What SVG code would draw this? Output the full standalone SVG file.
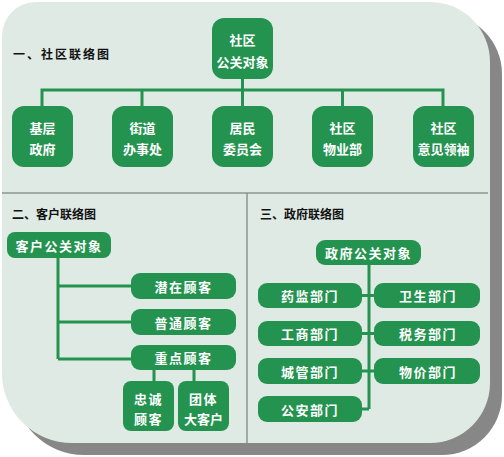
<svg xmlns="http://www.w3.org/2000/svg" width="504" height="457" viewBox="0 0 504 457">
<style>
.node rect{fill:#24934f;}
.node text{fill:#ffffff;font-family:"Noto Sans CJK SC","Noto Sans",sans-serif;font-weight:bold;font-size:13px;text-anchor:middle;dominant-baseline:central;}
.sp text{letter-spacing:1.5px;}
.title{fill:#111111;font-family:"Noto Sans CJK SC","Noto Sans",sans-serif;font-weight:bold;font-size:12px;dominant-baseline:central;}
.conn{stroke:#24934f;stroke-width:3;fill:none;}
.div{stroke:#8c9691;stroke-width:1.5;fill:none;}
</style>
<rect width="504" height="457" fill="#ffffff"/>
<g id="background">
<path d="M48,14 H442 A60,60 0 0 1 502,74 V395 A60,60 0 0 1 442,455 H84 A70,70 0 0 1 14,385 V48 A34,34 0 0 1 48,14 Z" fill="#878787"/>
<path d="M36,2 H430 A60,60 0 0 1 490,62 V383 A60,60 0 0 1 430,443 H72 A70,70 0 0 1 2,373 V36 A34,34 0 0 1 36,2 Z" fill="#deeae3"/>
<line class="div" x1="2" y1="193" x2="488" y2="193"/>
<line class="div" x1="247" y1="193" x2="247" y2="443"/>
</g>
<text class="title" x="13" y="53" letter-spacing="2">一、社区联络图</text>
<text class="title" x="12" y="213">二、客户联络图</text>
<text class="title" x="260" y="213">三、政府联络图</text>
<g id="connectors">
<path class="conn" d="M242.5,79 V90 M42,106 V90 H443 V106 M142,90 V106 M242.5,90 V106 M342.5,90 V106"/>
<path class="conn" d="M58,258 V359 M58,286 H131 M58,322 H131 M58,359 H131 M154,370 V381 M194,370 V381"/>
<path class="conn" d="M369,265 V409 M362,295.5 H374 M362,333.5 H374 M362,371 H374 M362,409 H369"/>
</g>
<g id="n_top" class="node"><rect x="212" y="18" width="61" height="61" rx="12"/><text x="242.5" y="39.5">社区</text><text x="242.5" y="61">公关对象</text></g>
<g id="n_jc" class="node"><rect x="12" y="106" width="61" height="61" rx="12"/><text x="42.5" y="127">基层</text><text x="42.5" y="148">政府</text></g>
<g id="n_jd" class="node"><rect x="112" y="106" width="61" height="61" rx="12"/><text x="142.5" y="127">街道</text><text x="142.5" y="148">办事处</text></g>
<g id="n_jm" class="node"><rect x="212" y="106" width="61" height="61" rx="12"/><text x="242.5" y="127">居民</text><text x="242.5" y="148">委员会</text></g>
<g id="n_wy" class="node"><rect x="312" y="106" width="61" height="61" rx="12"/><text x="342.5" y="127">社区</text><text x="342.5" y="148">物业部</text></g>
<g id="n_yj" class="node"><rect x="413" y="106" width="61" height="61" rx="12"/><text x="443.5" y="127">社区</text><text x="443.5" y="148">意见领袖</text></g>
<g id="n_kh" class="node sp"><rect x="7" y="232" width="104" height="26" rx="8"/><text x="59" y="245">客户公关对象</text></g>
<g id="n_qz" class="node sp"><rect x="131" y="273" width="105" height="26" rx="9"/><text x="183.5" y="286">潜在顾客</text></g>
<g id="n_pt" class="node sp"><rect x="131" y="309" width="105" height="26" rx="9"/><text x="183.5" y="322">普通顾客</text></g>
<g id="n_zd" class="node sp"><rect x="131" y="345" width="105" height="25" rx="9"/><text x="183.5" y="357.5">重点顾客</text></g>
<g id="n_zc" class="node sp"><rect x="123" y="381" width="51" height="50" rx="8"/><text x="148.5" y="398">忠诚</text><text x="148.5" y="418">顾客</text></g>
<g id="n_tt" class="node"><rect x="178" y="381" width="51" height="50" rx="8"/><text x="203.5" y="398" letter-spacing="1.5">团体</text><text x="203.5" y="418">大客户</text></g>
<g id="n_zf" class="node sp"><rect x="316" y="240" width="105" height="25" rx="9"/><text x="368.5" y="252.5">政府公关对象</text></g>
<g id="n_yjbm" class="node sp"><rect x="258" y="283" width="104" height="25" rx="9"/><text x="310" y="295.5">药监部门</text></g>
<g id="n_ws" class="node sp"><rect x="374" y="283" width="106" height="25" rx="9"/><text x="428" y="295.5">卫生部门</text></g>
<g id="n_gs" class="node sp"><rect x="258" y="321" width="104" height="25" rx="9"/><text x="310" y="333.5">工商部门</text></g>
<g id="n_sw" class="node sp"><rect x="374" y="321" width="106" height="25" rx="9"/><text x="428" y="333.5">税务部门</text></g>
<g id="n_cg" class="node sp"><rect x="258" y="358" width="104" height="26" rx="9"/><text x="310" y="371">城管部门</text></g>
<g id="n_wj" class="node sp"><rect x="374" y="358" width="106" height="26" rx="9"/><text x="428" y="371">物价部门</text></g>
<g id="n_ga" class="node sp"><rect x="258" y="396" width="104" height="26" rx="9"/><text x="310" y="409">公安部门</text></g>
</svg>
